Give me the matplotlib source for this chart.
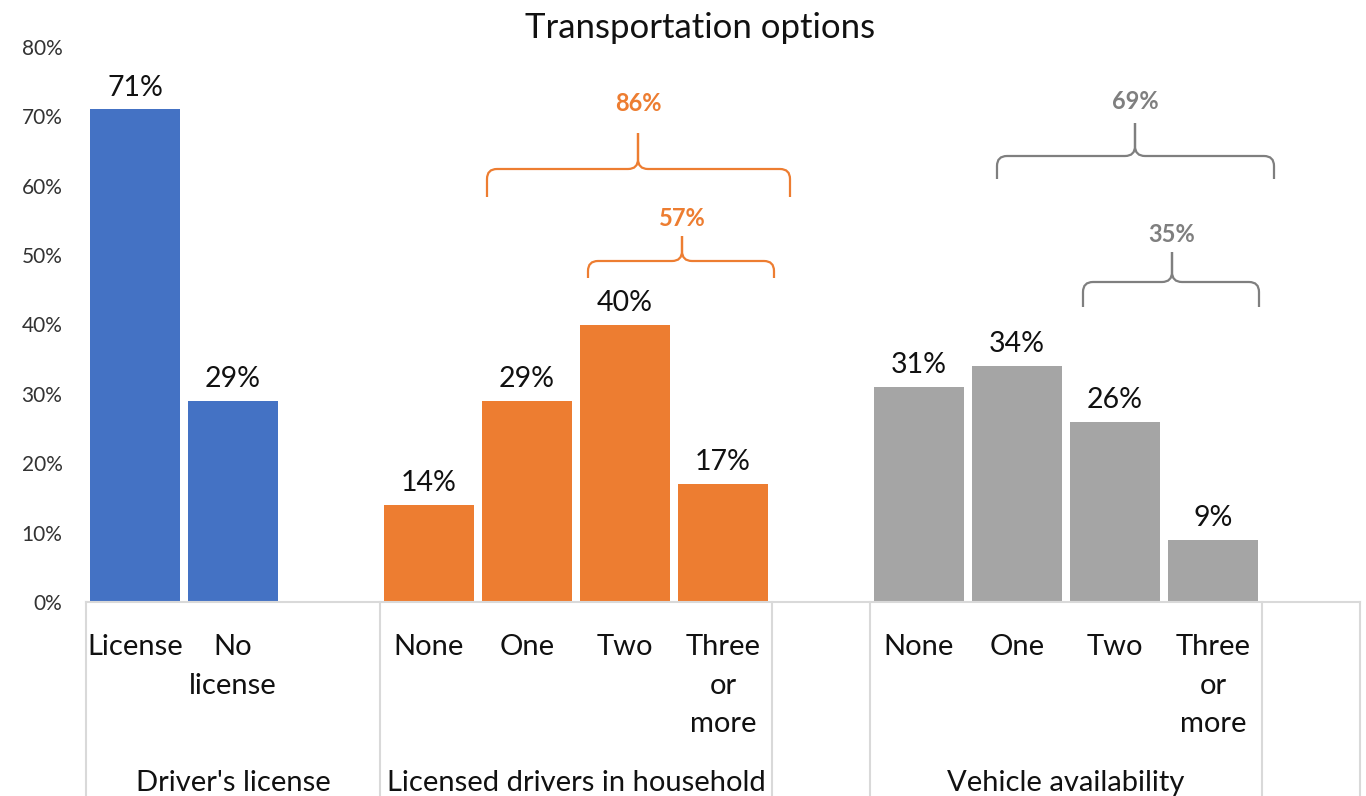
import matplotlib
matplotlib.use("Agg")
import matplotlib.pyplot as plt
from matplotlib.path import Path
from matplotlib.patches import PathPatch
import matplotlib.transforms as mtransforms

plt.rcParams['font.family'] = ['Lato', 'DejaVu Sans']

# ---- data ----
title = "Transportation options"
groups = ["Driver's license", "Licensed drivers in household", "Vehicle availability"]
license_labels = ["License", "No\nlicense"]
license_values = [71, 29]
drivers_labels = ["None", "One", "Two", "Three\nor\nmore"]
drivers_values = [14, 29, 40, 17]
vehicle_labels = ["None", "One", "Two", "Three\nor\nmore"]
vehicle_values = [31, 34, 26, 9]
yticks = [0, 10, 20, 30, 40, 50, 60, 70, 80]

colors = ["#4472C4", "#ED7D31", "#A5A5A5"]
brace_colors = ["#ED7D31", "#ED7D31", "#7F7F7F", "#7F7F7F"]

# ---- layout of category slots (with blank spacer slots) ----
group_data = [(license_labels, license_values), (drivers_labels, drivers_values),
              (vehicle_labels, vehicle_values)]
slot = 0
positions = []
group_spans = []
for gi, (labs, vals) in enumerate(group_data):
    pos = list(range(slot, slot + len(labs)))
    positions.append(pos)
    slot += len(labs)
    if gi == 0:
        group_spans.append((pos[0] - 0.5, slot + 0.5))  # blank included
    else:
        group_spans.append((pos[0] - 0.5, slot - 0.5))
    slot += 1  # blank spacer slot
n_slots = slot

W, H = 1366, 796
fig = plt.figure(figsize=(W / 100, H / 100), dpi=100)
ax = fig.add_axes([86 / W, (H - 602) / H, (1360 - 86) / W, (602 - 47) / H])

LBL = 21
bar_w = 0.92
for gi, (labs, vals) in enumerate(group_data):
    ax.bar(positions[gi], vals, width=bar_w, color=colors[gi], zorder=2)
    for x, v in zip(positions[gi], vals):
        ax.annotate(f"{v}%", (x, v), xytext=(0, 10), textcoords="offset points",
                    ha="center", va="baseline", fontsize=20.5, color="#111111")

ax.set_xlim(-0.5, n_slots - 0.5)
ax.set_ylim(0, 80)
ax.set_yticks(yticks)
ax.set_yticklabels([f"{t}%" for t in yticks], fontsize=15, color="#333333")
ax.tick_params(axis="y", length=0, pad=17)
ax.set_xticks([])
for s in ["left", "right", "top"]:
    ax.spines[s].set_visible(False)
ax.spines["bottom"].set_color("#D9D9D9")
ax.spines["bottom"].set_linewidth(1.5)

trans = mtransforms.blended_transform_factory(ax.transData, ax.transAxes)
ax_h = 602 - 47
# separators below axis
seps = sorted(set([group_spans[0][0], group_spans[0][1],
                   group_spans[1][0], group_spans[1][1],
                   group_spans[2][0], group_spans[2][1], n_slots - 0.5]))
for sx in seps:
    ax.plot([sx, sx], [0, -(796 - 602) / ax_h], transform=trans, color="#D9D9D9",
            lw=1.5, clip_on=False)

# inner category labels
base1 = -(655 - 602) / ax_h
spacing = 38.5 / ax_h
for gi, (labs, vals) in enumerate(group_data):
    for x, lab in zip(positions[gi], labs):
        for j, line in enumerate(lab.split("\n")):
            ax.text(x, base1 - j * spacing, line, transform=trans, ha="center",
                    va="baseline", fontsize=LBL, color="#111111")

# outer group labels
for (a, b), g in zip(group_spans, groups):
    ax.text((a + b) / 2, -(791 - 602) / ax_h, g, transform=trans, ha="center",
            va="baseline", fontsize=LBL, color="#111111")

# title
fig.text(700 / W, 1 - 38 / H, title, ha="center", va="baseline", fontsize=25,
         color="#111111")

# braces (annotation of summed shares)
def px_x(p):
    return (p - 86) / 98.0 - 0.5

def px_y(p):
    return (602 - p) / 6.9375

brace_specs = [
    # x0, x1, cusp, y_end, y_line, y_tip, y_label, value
    (487, 790, 638, 197, 169, 133, 111, sum(drivers_values[1:])),
    (588, 774, 682, 278, 261, 236, 226, sum(drivers_values[2:])),
    (997, 1274, 1135, 179, 156, 123, 109, sum(vehicle_values[1:])),
    (1083, 1259, 1172, 307, 282, 252, 242, sum(vehicle_values[2:])),
]
rx = 10 / 98.0
dy = 10 / 6.9375
for (x0p, x1p, cxp, yep, ylp, ytp, ylab, val), col in zip(brace_specs, brace_colors):
    x0, x1, cx = px_x(x0p), px_x(x1p), px_x(cxp)
    ye, yl, yt = px_y(yep), px_y(ylp), px_y(ytp)
    verts = [(x0, ye), (x0, yl - dy), (x0, yl), (x0 + rx, yl),
             (cx - rx, yl), (cx, yl), (cx, yl + dy), (cx, yt),
             (cx, yl + dy), (cx, yl), (cx + rx, yl),
             (x1 - rx, yl), (x1, yl), (x1, yl - dy), (x1, ye)]
    codes = [Path.MOVETO, Path.LINETO, Path.CURVE3, Path.CURVE3,
             Path.LINETO, Path.CURVE3, Path.CURVE3, Path.LINETO,
             Path.LINETO, Path.CURVE3, Path.CURVE3,
             Path.LINETO, Path.CURVE3, Path.CURVE3, Path.LINETO]
    ax.add_patch(PathPatch(Path(verts, codes), fill=False, edgecolor=col, lw=1.6,
                           clip_on=False, zorder=3))
    ax.text(cx, px_y(ylab), f"{val}%", ha="center", va="baseline", fontsize=17,
            fontweight="bold", color=col)

fig.savefig("out.png", dpi=100)
